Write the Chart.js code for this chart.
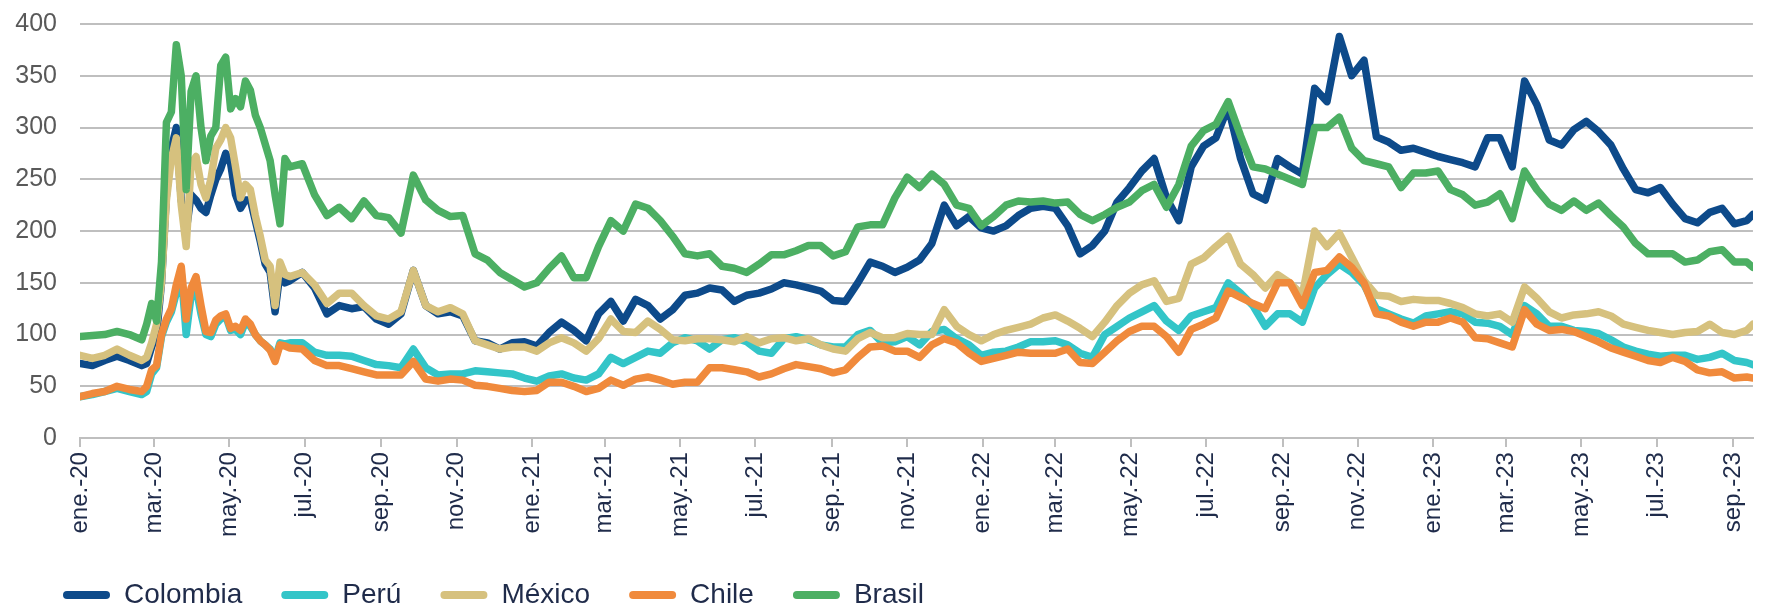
<!DOCTYPE html>
<html>
<head>
<meta charset="utf-8">
<script src="https://cdn.jsdelivr.net/npm/chart.js@4.4.0/dist/chart.umd.min.js"></script>
<style>
  html, body { margin: 0; padding: 0; background: #fff; }
  #wrap { width: 1767px; height: 607px; position: relative; }
</style>
</head>
<body>
<div id="wrap"><canvas id="chart"></canvas></div>
<script>
// days since 1 Jan 2020
const days = [0, 10, 20, 30, 40, 50,
  54, 58, 62, 66, 70, 74, 78, 82, 86, 90, 94, 98, 102, 106, 110, 114, 118, 122, 126, 130, 134, 138, 142, 146, 150, 154, 158, 162, 166,
  170, 180, 190, 200, 210, 220, 230, 240, 250, 260, 270, 280, 290, 300,
  310, 320, 330, 340, 350, 360, 370, 380, 390, 400, 410, 420, 430, 440, 450, 460, 470, 480, 490, 500,
  510, 520, 530, 540, 550, 560, 570, 580, 590, 600, 610, 620, 630, 640, 650,
  660, 670, 680, 690, 700, 710, 720, 730, 740, 750, 760, 770, 780, 790, 800, 810, 820, 830, 840, 850,
  860, 870, 880, 890, 900, 910, 920, 930, 940, 950, 960, 970, 980, 990, 1000,
  1010, 1020, 1030, 1040, 1050, 1060, 1070, 1080, 1090, 1100, 1110, 1120, 1130, 1140, 1150, 1160, 1170, 1180,
  1190, 1200, 1210, 1220, 1230, 1240, 1250, 1260, 1270, 1280, 1290, 1300, 1310, 1320, 1330, 1340, 1350, 1355];

const colombia = [72, 70, 75, 79, 75, 70,
  72, 88, 100, 150, 235, 280, 300, 230, 200, 235, 230, 222, 218, 235, 250, 260, 275, 265, 235, 222, 230, 230, 210, 190, 168, 160, 122, 160, 150,
  152, 160, 145, 120, 128, 125, 127, 115, 110, 120, 162, 128, 120, 122,
  118, 94, 92, 86, 92, 93, 89, 102, 112, 104, 94, 120, 132, 113, 134, 128, 115, 124, 138, 140,
  145, 143, 132, 138, 140, 144, 150, 148, 145, 142, 133, 132, 150, 170, 166,
  160, 165, 172, 188, 225, 205, 214, 203, 200, 205, 215, 222, 224, 222, 205, 178, 186, 200, 228, 242,
  258, 270, 232, 210, 262, 282, 290, 320, 270, 236, 230, 270, 262, 255, 338,
  325, 388, 350, 365, 291, 286, 278, 280, 276, 272, 269, 266, 262, 290, 290, 262, 345, 322,
  288, 283, 298, 306, 296, 283, 260, 240, 237, 242, 226, 212, 208, 218, 222, 207, 210, 216];

const peru = [40, 42, 45, 48, 45, 42,
  45, 62, 68, 98, 112, 122, 140, 160, 100, 138, 145, 120, 100, 98, 110, 115, 118, 104, 105, 100, 112, 108, 100, 94, 90, 86, 76, 92, 91,
  92, 92, 83, 80, 80, 79, 75, 71, 70, 68, 86, 68, 61, 62,
  62, 65, 64, 63, 62, 58, 55, 60, 62, 58, 56, 62, 78, 72, 78, 84, 82, 92, 97, 94,
  86, 95, 97, 93, 84, 82, 96, 98, 95, 90, 88, 88, 100, 104, 92,
  93, 98, 90, 103, 105, 96, 90, 80, 83, 84, 88, 93, 93, 94, 90, 82, 78, 100, 108, 116,
  122, 128, 113, 104, 118, 122, 126, 150, 140, 128, 108, 120, 120, 112, 145,
  158, 168, 160, 148, 125, 120, 115, 111, 118, 120, 122, 120, 112, 111, 108, 100, 128, 120,
  108, 108, 104, 103, 101, 95, 88, 84, 81, 79, 80, 80, 76, 78, 82, 75, 73, 71];

const mexico = [80, 77, 80, 86, 80, 75,
  78, 92, 110, 150, 230, 270, 290, 225, 185, 265, 272, 245, 232, 250, 280, 288, 300, 290, 262, 232, 245, 240, 215, 195, 172, 166, 128, 170, 158,
  156, 160, 148, 130, 140, 140, 128, 118, 115, 122, 162, 128, 122, 126,
  120, 94, 90, 86, 88, 88, 84, 92, 97, 92, 84, 96, 115, 103, 102, 113, 105, 95, 94, 96,
  96, 95, 93, 98, 92, 96, 97, 94, 96, 90, 86, 84, 96, 102, 97,
  97, 101, 100, 100, 124, 108, 100, 94, 100, 104, 107, 110, 116, 119, 113, 106, 98, 112, 128, 140,
  148, 152, 132, 135, 168, 174, 185, 195, 168, 158, 145, 158, 150, 138, 200,
  185, 198, 175, 152, 138, 137, 132, 134, 133, 133, 130, 126, 120, 118, 120, 112, 146, 135,
  122, 116, 119, 120, 122, 118, 110, 107, 104, 102, 100, 102, 103, 110, 102, 100, 104, 110];

const chile = [40, 43, 45, 50, 47, 45,
  50, 66, 70, 100, 115, 125, 148, 166, 115, 145, 156, 128, 103, 102, 114, 118, 120, 106, 108, 104, 115, 110, 100, 94, 90, 85, 74, 90, 89,
  87, 86, 75, 70, 70, 67, 64, 61, 61, 61, 74, 57, 55, 57,
  56, 51, 50, 48, 46, 45, 46, 54, 54, 50, 45, 48, 56, 51, 57, 59, 56, 52, 54, 54,
  68, 68, 66, 64, 59, 62, 67, 71, 69, 67, 63, 66, 78, 88, 89,
  84, 84, 78, 90, 96, 92, 82, 74, 77, 80, 83, 82, 82, 82, 86, 73, 72, 83, 94, 103,
  108, 108, 98, 83, 105, 110, 116, 142, 136, 130, 125, 150, 150, 128, 160,
  162, 175, 165, 150, 120, 118, 112, 108, 112, 112, 116, 112, 97, 96, 92, 88, 124, 110,
  104, 105, 103, 98, 93, 87, 83, 79, 75, 73, 78, 74, 66, 63, 64, 58, 59, 58];

const brasil = [98, 99, 100, 103, 100, 95,
  110, 130, 113, 170, 305, 315, 380, 350, 240, 335, 350, 300, 268, 292, 300, 360, 368, 318, 328, 320, 345, 336, 312, 300, 284, 268, 235, 207, 270,
  262, 265, 235, 215, 223, 212, 229, 215, 213, 198, 254, 230, 220, 214,
  215, 178, 172, 160, 153, 146, 150, 164, 176, 155, 155, 185, 210, 200, 226, 222, 210, 195, 178, 176,
  178, 166, 164, 160, 168, 177, 177, 181, 186, 186, 176, 180, 204, 206, 206,
  232, 252, 242, 255, 245, 225, 222, 205, 214, 225, 229, 228, 229, 227, 228, 216, 210, 216, 223, 228,
  239, 245, 223, 245, 282, 297, 303, 325, 292, 262, 260, 255, 250, 245, 300,
  300, 310, 280, 268, 265, 262, 242, 256, 256, 258, 240, 235, 225, 228, 236, 212, 258, 240,
  226, 220, 229, 220, 227, 215, 204, 188, 178, 178, 178, 170, 172, 180, 182, 170, 170, 165];

const tickDates = ['2020-01-01', '2020-03-01', '2020-05-01', '2020-07-01', '2020-09-01', '2020-11-01',
  '2021-01-01', '2021-03-01', '2021-05-01', '2021-07-01', '2021-09-01', '2021-11-01',
  '2022-01-01', '2022-03-01', '2022-05-01', '2022-07-01', '2022-09-01', '2022-11-01',
  '2023-01-01', '2023-03-01', '2023-05-01', '2023-07-01', '2023-09-01'];
const tickLabels = ['ene.-20', 'mar.-20', 'may.-20', 'jul.-20', 'sep.-20', 'nov.-20',
  'ene.-21', 'mar.-21', 'may.-21', 'jul.-21', 'sep.-21', 'nov.-21',
  'ene.-22', 'mar.-22', 'may.-22', 'jul.-22', 'sep.-22', 'nov.-22',
  'ene.-23', 'mar.-23', 'may.-23', 'jul.-23', 'sep.-23'];

const t0 = Date.parse('2020-01-01');
const tickDays = tickDates.map(d => Math.round((Date.parse(d) - t0) / 864e5));

const series = [
  { label: 'Colombia', data: colombia, color: '#0d4a8a', order: 5 },
  { label: 'Perú', data: peru, color: '#33c5c8', order: 4 },
  { label: 'México', data: mexico, color: '#d6c17e', order: 3 },
  { label: 'Chile', data: chile, color: '#f08a3c', order: 2 },
  { label: 'Brasil', data: brasil, color: '#4caf63', order: 1 }
];

Chart.defaults.font.family = "'Liberation Sans', Arial, sans-serif";

// move the legend a little to the right, the axis stays where it is
const legendShift = {
  id: 'legendShift',
  afterLayout(chart) { chart.legend.left = 24; }
};

new Chart(document.getElementById('chart'), {
  type: 'line',
  data: {
    datasets: series.map(s => ({
      label: s.label,
      data: s.data.map((v, i) => ({ x: days[i], y: v })),
      borderColor: s.color,
      backgroundColor: s.color,
      borderWidth: 7.5,
      pointRadius: 0,
      tension: 0,
      borderJoinStyle: 'round',
      borderCapStyle: 'round',
      order: s.order
    }))
  },
  plugins: [legendShift],
  options: {
    animation: false,
    responsive: true,
    maintainAspectRatio: false,
    devicePixelRatio: 1,
    layout: { padding: { left: 0, right: 0, top: 24, bottom: 0 } },
    scales: {
      x: {
        type: 'linear',
        min: 0,
        max: 1355,
        afterBuildTicks: axis => { axis.ticks = tickDays.map(v => ({ value: v })); },
        ticks: {
          autoSkip: false,
          maxRotation: 90,
          minRotation: 90,
          padding: 5,
          color: '#1f2b4a',
          font: { size: 24 },
          callback: (v, i) => tickLabels[i]
        },
        grid: { drawOnChartArea: false, drawTicks: true, tickLength: 9, color: '#bfbfbf', lineWidth: 2 },
        border: { display: true, color: '#bfbfbf', width: 2 }
      },
      y: {
        min: 0,
        max: 400,
        afterFit: s => { s.width = 80; },
        ticks: { stepSize: 50, padding: 0, color: '#595959', font: { size: 25 } },
        grid: { color: '#bfbfbf', lineWidth: 2, drawTicks: true, tickLength: 23, tickColor: 'rgba(0,0,0,0)' },
        border: { display: false }
      }
    },
    plugins: {
      tooltip: { enabled: false },
      legend: {
        position: 'bottom',
        align: 'start',
        maxHeight: 65,
        labels: {
          boxWidth: 47,
          boxHeight: 8,
          padding: 39,
          color: '#1f2b4a',
          font: { size: 28 },
          useBorderRadius: true,
          borderRadius: 4,
          sort: (a, b) => a.datasetIndex - b.datasetIndex,
          generateLabels: chart => Chart.defaults.plugins.legend.labels.generateLabels(chart).map(l => Object.assign(l, { lineWidth: 0 }))
        }
      }
    }
  }
});
</script>
</body>
</html>
